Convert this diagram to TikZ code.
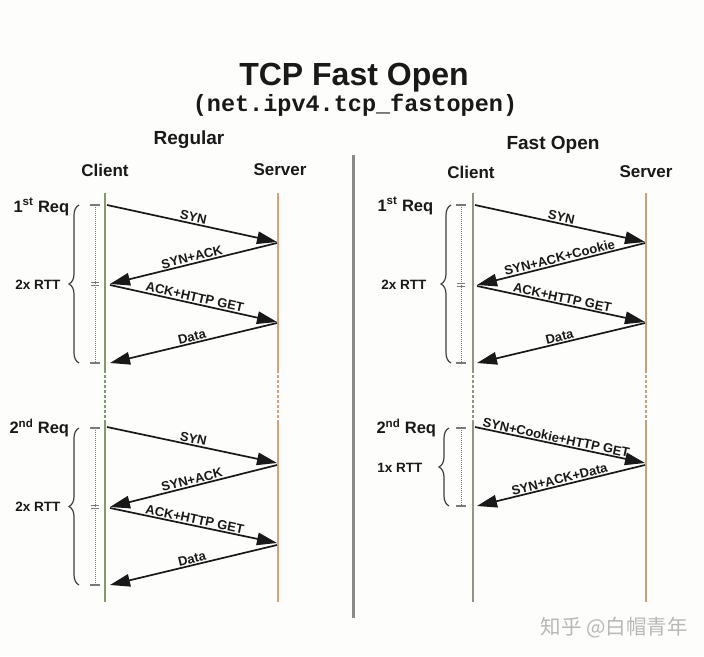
\documentclass[tikz,border=0pt]{standalone}
\usepackage{fontspec}
\setmainfont{Liberation Sans}
\newfontfamily\monob{Liberation Mono}
\newfontfamily\cjkf{Noto Sans CJK SC}
\usetikzlibrary{arrows.meta,decorations.pathreplacing}
\definecolor{bgc}{HTML}{FDFDFB}
\definecolor{cligreen}{HTML}{7E9C6C}
\definecolor{cligray}{HTML}{8E9680}
\definecolor{servor}{HTML}{D8A07C}
\definecolor{servor2}{HTML}{C9A07E}
\definecolor{divc}{HTML}{8A8A8A}
\definecolor{scalec}{HTML}{7A7A7A}
\tikzset{
  msg/.style={-{Triangle[length=20pt,width=12.5pt]}, line width=1.7pt, black!90},
  lbl/.style={font=\bfseries\fontsize{13}{15}\selectfont, sloped, above, inner sep=1pt, text=black!90},
  life/.style={line width=1.8pt},
  lifedot/.style={line width=1.6pt, dash pattern=on 2.5pt off 2.5pt},
  hdr/.style={font=\bfseries\fontsize{17}{19}\selectfont, text=black!90},
  req/.style={font=\bfseries\fontsize{16.5}{19}\selectfont, anchor=west, text=black!90},
  rtt/.style={font=\bfseries\fontsize{13.5}{15}\selectfont, anchor=east, text=black!90},
  scl/.style={line width=1pt, scalec, densely dotted},
  tick/.style={line width=1.1pt, scalec},
  brc/.style={decorate, decoration={brace, amplitude=10pt}, line width=1.2pt, black!75}
}
\begin{document}
\begin{tikzpicture}[x=1pt,y=-1pt]
\fill[bgc] (0,0) rectangle (704,656);
\useasboundingbox (0,0) rectangle (704,656);

% titles
\node[font=\bfseries\fontsize{32}{36}\selectfont, text=black!90] (title) at (354,78) {TCP Fast Open};
\node[font=\monob\bfseries\fontsize{23.5}{26}\selectfont, text=black!90] (subtitle) at (355,105) {(net.ipv4.tcp\_fastopen)};
\node[font=\bfseries\fontsize{19}{21}\selectfont, text=black!90] (regular) at (189,140) {Regular};
\node[font=\bfseries\fontsize{19}{21}\selectfont, text=black!90] (fastopen) at (553,145) {Fast Open};
\node[hdr] (clientL) at (105,170) {Client};
\node[hdr] (serverL) at (280,170) {Server};
\node[hdr] (clientR) at (471,172) {Client};
\node[hdr] (serverR) at (646,172) {Server};

% divider
\coordinate (dv1) at (353,155);
\coordinate (dv2) at (353,618);
\draw[line width=3pt, divc] (dv1) -- (dv2);

% lifelines left
\coordinate (lc1) at (105,193); \coordinate (lc2) at (105,370);
\coordinate (lc3) at (105,420); \coordinate (lc4) at (105,602);
\coordinate (ls1) at (278,193); \coordinate (ls2) at (278,370);
\coordinate (ls3) at (278,420); \coordinate (ls4) at (278,602);
\draw[life, cligreen] (lc1) -- (lc2);
\draw[lifedot, cligreen] (lc2) -- (lc3);
\draw[life, cligreen] (lc3) -- (lc4);
\draw[life, servor] (ls1) -- (ls2);
\draw[lifedot, servor] (ls2) -- (ls3);
\draw[life, servor] (ls3) -- (ls4);

% lifelines right
\coordinate (rc1) at (473,193); \coordinate (rc2) at (473,370);
\coordinate (rc3) at (473,420); \coordinate (rc4) at (473,602);
\coordinate (rs1) at (646,193); \coordinate (rs2) at (646,370);
\coordinate (rs3) at (646,420); \coordinate (rs4) at (646,602);
\draw[life, cligray] (rc1) -- (rc2);
\draw[lifedot, cligray] (rc2) -- (rc3);
\draw[life, cligray] (rc3) -- (rc4);
\draw[life, servor2] (rs1) -- (rs2);
\draw[lifedot, servor2] (rs2) -- (rs3);
\draw[life, servor2] (rs3) -- (rs4);

% ---------- Left, 1st request
\node[req] (lreq1) at (10,207) {1\textsuperscript{st} Req};
\node[rtt] (lrtt1) at (64,285) {2x RTT};
\coordinate (ls1a) at (95,205); \coordinate (ls1b) at (95,363); \coordinate (ls1m) at (95,284);
\draw[scl] (ls1a) -- (ls1b);
\draw[tick] ([xshift=-5pt]ls1a) -- ([xshift=5pt]ls1a);
\draw[tick] ([xshift=-5pt]ls1b) -- ([xshift=5pt]ls1b);
\draw[tick] ([xshift=-4pt,yshift=-1.5pt]ls1m) -- ([xshift=4pt,yshift=-1.5pt]ls1m);
\draw[tick] ([xshift=-4pt,yshift=1.5pt]ls1m) -- ([xshift=4pt,yshift=1.5pt]ls1m);
\coordinate (lb1a) at (79,363); \coordinate (lb1b) at (79,205);
\draw[brc] (lb1a) -- (lb1b);

\coordinate (la1) at (107,205); \coordinate (la2) at (277,242);
\coordinate (la3) at (277,243); \coordinate (la4) at (110,284);
\coordinate (la5) at (110,285); \coordinate (la6) at (277,322);
\coordinate (la7) at (277,323); \coordinate (la8) at (110,363);
\draw[msg] (la1) -- node[lbl] (t1) {SYN} (la2);
\draw[msg] (la3) -- node[lbl] (t2) {SYN+ACK} (la4);
\draw[msg] (la5) -- node[lbl] (t3) {ACK+HTTP GET} (la6);
\draw[msg] (la7) -- node[lbl] (t4) {Data} (la8);

% ---------- Left, 2nd request
\node[req] (lreq2) at (6,428) {2\textsuperscript{nd} Req};
\node[rtt] (lrtt2) at (64,507) {2x RTT};
\coordinate (ls2a) at (95,428); \coordinate (ls2b) at (95,585); \coordinate (ls2m) at (95,507);
\draw[scl] (ls2a) -- (ls2b);
\draw[tick] ([xshift=-5pt]ls2a) -- ([xshift=5pt]ls2a);
\draw[tick] ([xshift=-5pt]ls2b) -- ([xshift=5pt]ls2b);
\draw[tick] ([xshift=-4pt,yshift=-1.5pt]ls2m) -- ([xshift=4pt,yshift=-1.5pt]ls2m);
\draw[tick] ([xshift=-4pt,yshift=1.5pt]ls2m) -- ([xshift=4pt,yshift=1.5pt]ls2m);
\coordinate (lb2a) at (79,585); \coordinate (lb2b) at (79,428);
\draw[brc] (lb2a) -- (lb2b);

\coordinate (lb1) at (107,427); \coordinate (lb2) at (277,463);
\coordinate (lb3) at (277,465); \coordinate (lb4) at (110,507);
\coordinate (lb5) at (110,508); \coordinate (lb6) at (277,543);
\coordinate (lb7) at (277,545); \coordinate (lb8) at (110,585);
\draw[msg] (lb1) -- node[lbl] (t5) {SYN} (lb2);
\draw[msg] (lb3) -- node[lbl] (t6) {SYN+ACK} (lb4);
\draw[msg] (lb5) -- node[lbl] (t7) {ACK+HTTP GET} (lb6);
\draw[msg] (lb7) -- node[lbl] (t8) {Data} (lb8);

% ---------- Right, 1st request
\node[req] (rreq1) at (374,206) {1\textsuperscript{st} Req};
\node[rtt] (rrtt1) at (430,285) {2x RTT};
\coordinate (rs1a) at (461,205); \coordinate (rs1b) at (461,363); \coordinate (rs1m) at (461,285);
\draw[scl] (rs1a) -- (rs1b);
\draw[tick] ([xshift=-5pt]rs1a) -- ([xshift=5pt]rs1a);
\draw[tick] ([xshift=-5pt]rs1b) -- ([xshift=5pt]rs1b);
\draw[tick] ([xshift=-4pt,yshift=-1.5pt]rs1m) -- ([xshift=4pt,yshift=-1.5pt]rs1m);
\draw[tick] ([xshift=-4pt,yshift=1.5pt]rs1m) -- ([xshift=4pt,yshift=1.5pt]rs1m);
\coordinate (rb1a) at (451,363); \coordinate (rb1b) at (451,205);
\draw[brc] (rb1a) -- (rb1b);

\coordinate (ra1) at (475,205); \coordinate (ra2) at (645,242);
\coordinate (ra3) at (645,243); \coordinate (ra4) at (477,285);
\coordinate (ra5) at (477,286); \coordinate (ra6) at (645,322);
\coordinate (ra7) at (645,323); \coordinate (ra8) at (477,363);
\draw[msg] (ra1) -- node[lbl] (t9) {SYN} (ra2);
\draw[msg] (ra3) -- node[lbl] (t10) {SYN+ACK+Cookie} (ra4);
\draw[msg] (ra5) -- node[lbl] (t11) {ACK+HTTP GET} (ra6);
\draw[msg] (ra7) -- node[lbl] (t12) {Data} (ra8);

% ---------- Right, 2nd request
\node[req] (rreq2) at (373,428) {2\textsuperscript{nd} Req};
\node[rtt] (rrtt2) at (426,468) {1x RTT};
\coordinate (rs2a) at (461,428); \coordinate (rs2b) at (461,506);
\draw[scl] (rs2a) -- (rs2b);
\draw[tick] ([xshift=-5pt]rs2a) -- ([xshift=5pt]rs2a);
\draw[tick] ([xshift=-5pt]rs2b) -- ([xshift=5pt]rs2b);
\coordinate (rb2a) at (449,506); \coordinate (rb2b) at (449,428);
\draw[brc] (rb2a) -- (rb2b);

\coordinate (rb1) at (475,427); \coordinate (rb2) at (645,463);
\coordinate (rb3) at (645,465); \coordinate (rb4) at (477,506);
\draw[msg] (rb1) -- node[lbl, pos=0.47] (t13) {SYN+Cookie+HTTP GET} (rb2);
\draw[msg] (rb3) -- node[lbl] (t14) {SYN+ACK+Data} (rb4);

% watermark
\node[font=\cjkf\fontsize{20.5}{23}\selectfont, text=black!28, anchor=west] (wm) at (537,628) {知乎 @白帽青年};
\end{tikzpicture}
\end{document}
